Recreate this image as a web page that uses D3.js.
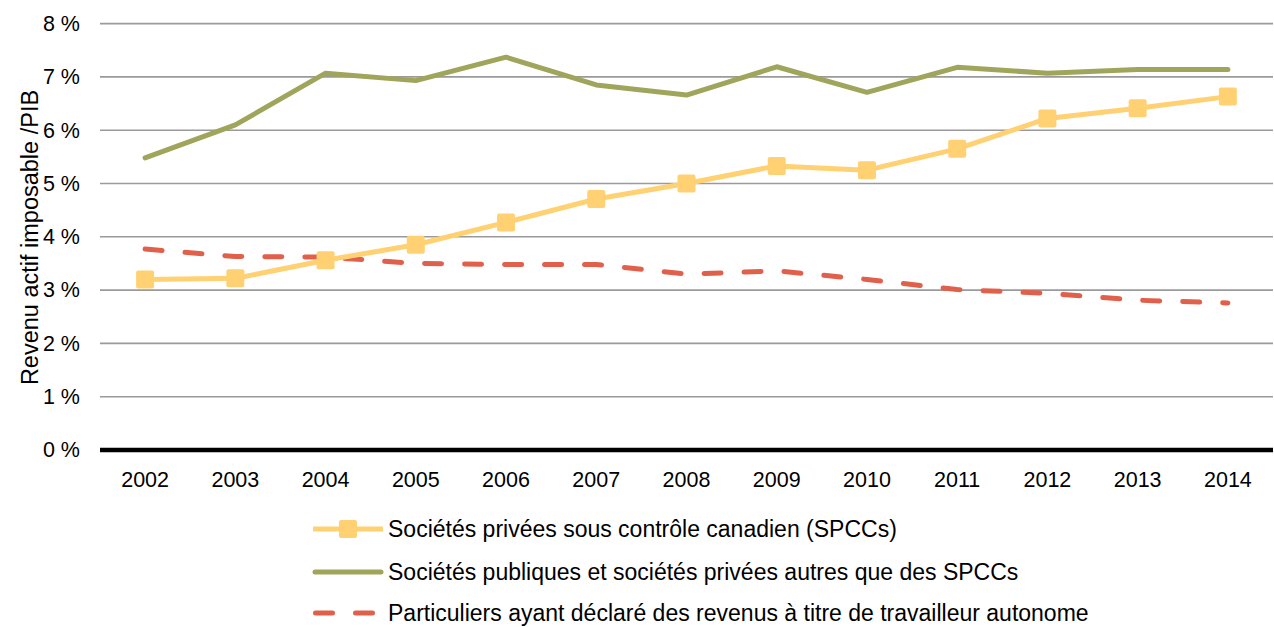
<!DOCTYPE html>
<html><head><meta charset="utf-8">
<script src="https://cdn.jsdelivr.net/npm/d3@7"></script>
<style>body{margin:0;background:#fff}svg{display:block}text{font-family:"Liberation Sans",Arial,sans-serif}</style>
</head><body>
<svg id="c" width="1274" height="627"></svg>
<script>
const years = ["2002","2003","2004","2005","2006","2007","2008","2009","2010","2011","2012","2013","2014"];
const spcc = [3.20,3.22,3.56,3.85,4.27,4.71,5.00,5.33,5.25,5.65,6.22,6.41,6.63];
const publiques = [5.48,6.10,7.07,6.93,7.37,6.85,6.66,7.19,6.71,7.18,7.07,7.14,7.14];
const particuliers = [3.77,3.63,3.62,3.50,3.48,3.48,3.30,3.36,3.20,3.01,2.94,2.81,2.76];
const yTicks = [0,1,2,3,4,5,6,7,8];
const seriesNames = ["Sociétés privées sous contrôle canadien (SPCCs)","Sociétés publiques et sociétés privées autres que des SPCCs","Particuliers ayant déclaré des revenus à titre de travailleur autonome"];
const yTitle = "Revenu actif imposable /PIB";

const svg = d3.select("#c");
const L=100, R=1273, T=23.6, B=450;
const x = d3.scaleBand().domain(years).range([L,R]);
const y = d3.scaleLinear().domain([0,8]).range([B,T]);
const cx = d => x(d)+x.bandwidth()/2;
const FONT = "Liberation Sans, Arial, sans-serif";

// gridlines
svg.append("g").selectAll("line").data(yTicks.filter(d=>d>0)).join("line")
  .attr("x1",L).attr("x2",R).attr("y1",d=>y(d)).attr("y2",d=>y(d))
  .attr("stroke","#9a9a9a").attr("stroke-width",1.6);

// y axis labels
const ya = svg.append("g").attr("transform",`translate(${L},0)`)
  .call(d3.axisLeft(y).tickValues(yTicks).tickSize(0).tickPadding(20).tickFormat(d=>d+" %"));
ya.select(".domain").remove();
ya.selectAll("text").attr("font-size",21.5).attr("fill","#000").style("font-family",FONT);

// x axis labels
const xa = svg.append("g").attr("transform",`translate(0,${B})`)
  .call(d3.axisBottom(x).tickSize(0).tickPadding(21.5));
xa.select(".domain").remove();
xa.selectAll("text").attr("font-size",21.5).attr("fill","#000").style("font-family",FONT);

// zero axis line
svg.append("line").attr("x1",L).attr("x2",R).attr("y1",y(0)).attr("y2",y(0))
  .attr("stroke","#000").attr("stroke-width",4.5);

// y title
svg.append("text").attr("transform",`translate(38,237.5) rotate(-90)`)
  .attr("text-anchor","middle").attr("font-size",23.5).text(yTitle);

const line = d3.line().x((d,i)=>cx(years[i])).y(d=>y(d));
const cYellow="#FFD173", cGreen="#A0A55C", cRed="#E0604C";

svg.append("path").attr("d",line(particuliers)).attr("fill","none").attr("stroke",cRed)
  .attr("stroke-width",5).attr("stroke-dasharray","17,23").attr("stroke-linecap","round");
svg.append("path").attr("d",line(publiques)).attr("fill","none").attr("stroke",cGreen)
  .attr("stroke-width",5).attr("stroke-linejoin","round").attr("stroke-linecap","round");
svg.append("path").attr("d",line(spcc)).attr("fill","none").attr("stroke",cYellow)
  .attr("stroke-width",5).attr("stroke-linejoin","round");
svg.append("g").selectAll("rect").data(spcc).join("rect")
  .attr("x",(d,i)=>cx(years[i])-9).attr("y",d=>y(d)-9).attr("width",18).attr("height",18)
  .attr("rx",2).attr("fill",cYellow);

// legend
const lg = svg.append("g");
const ly = [529,572,613];
const lx0=313, lx1=383;
lg.append("line").attr("x1",lx0).attr("x2",lx1).attr("y1",ly[0]).attr("y2",ly[0]).attr("stroke",cYellow).attr("stroke-width",5);
lg.append("rect").attr("x",(lx0+lx1)/2-9).attr("y",ly[0]-9).attr("width",18).attr("height",18).attr("rx",2).attr("fill",cYellow);
lg.append("line").attr("x1",lx0+2).attr("x2",lx1-2).attr("y1",ly[1]).attr("y2",ly[1]).attr("stroke",cGreen).attr("stroke-width",5).attr("stroke-linecap","round");
lg.append("line").attr("x1",lx0+2.5).attr("x2",lx1).attr("y1",ly[2]).attr("y2",ly[2]).attr("stroke",cRed).attr("stroke-width",5).attr("stroke-dasharray","17,23").attr("stroke-linecap","round");
lg.selectAll("text").data(seriesNames).join("text")
  .attr("x",388).attr("y",(d,i)=>ly[i]+8).attr("font-size",23).text(d=>d);
</script>
</body></html>
